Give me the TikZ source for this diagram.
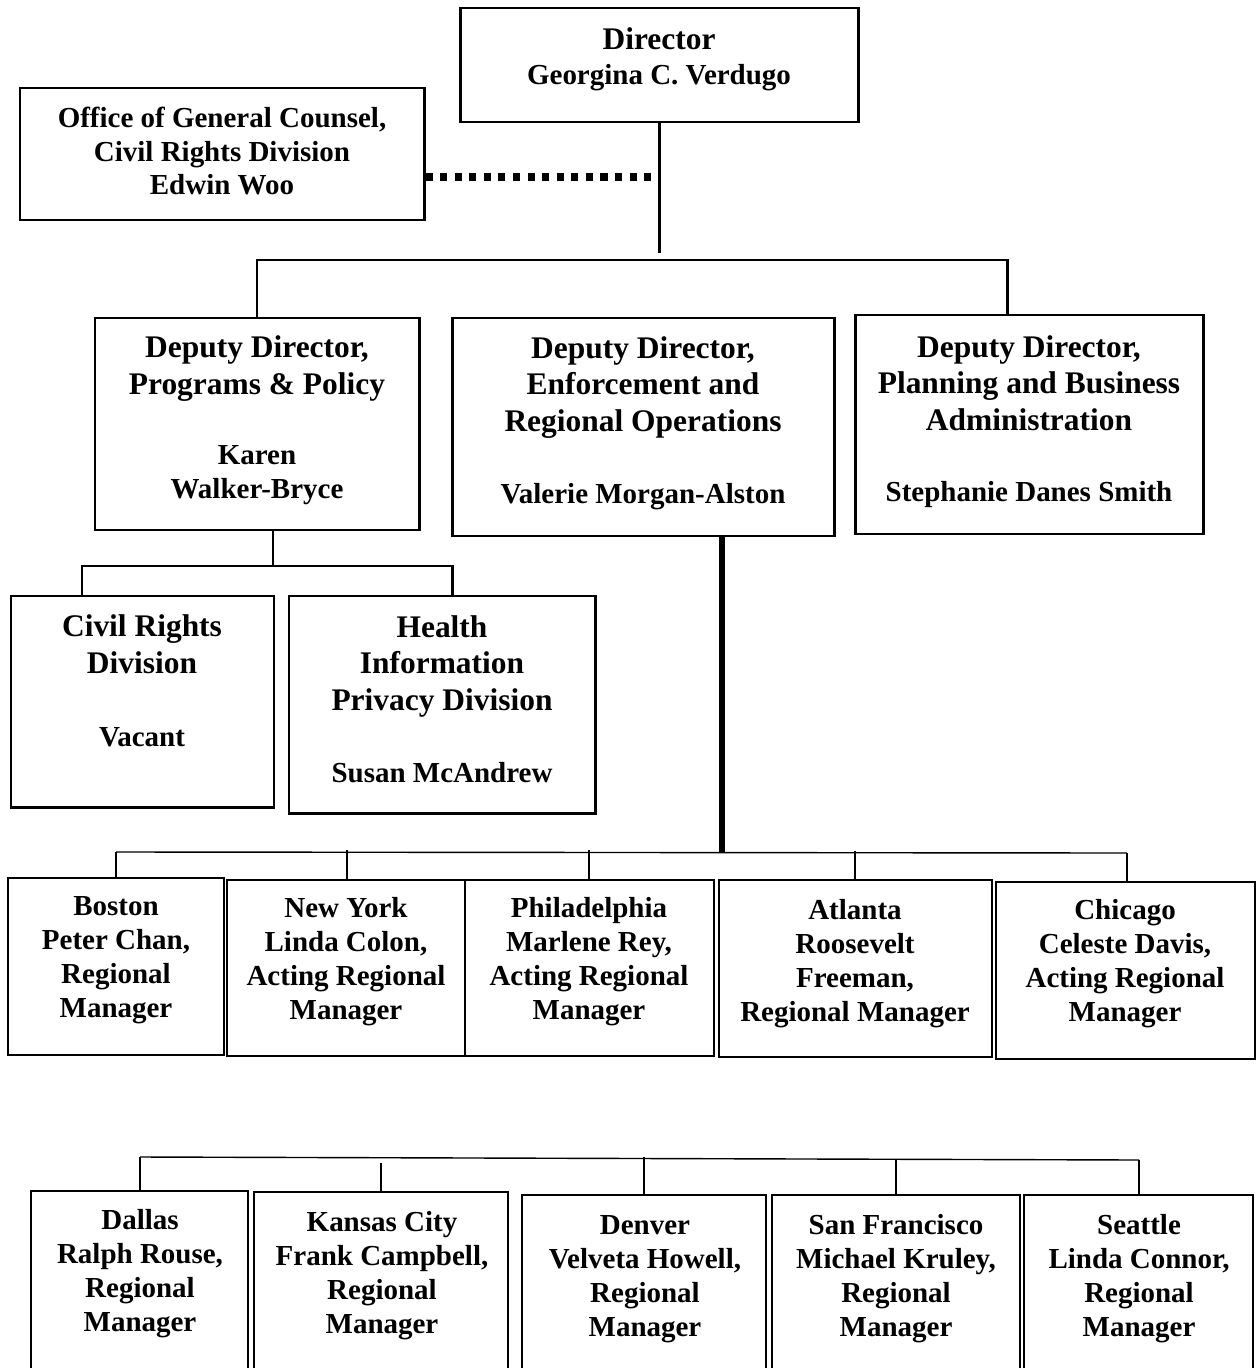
\documentclass[tikz,border=0pt]{standalone}
\usepackage{fontspec}
\setmainfont{Liberation Serif}
\usetikzlibrary{fit}
\begin{document}
\begin{tikzpicture}[
            x=0.02cm, y=-0.02cm,
            orgbox/.style={draw, line width=1.7pt, inner sep=0pt},
            rowbox/.style={draw, line width=1.5pt, inner sep=0pt},
            titletext/.style={font=\fontsize{17.9}{20.7}\selectfont\bfseries, align=center, anchor=base, inner sep=0pt},
            nametext/.style={font=\fontsize{16.5}{19.2}\selectfont\bfseries, align=center, anchor=base, inner sep=0pt},
            link/.style={draw, line width=1.7pt},
            bus/.style={draw, line width=0.8pt},
            tick/.style={draw, line width=0.6pt}
        ]
        \useasboundingbox (0,0) rectangle (1257,1368);
        % top level
        \node[orgbox, fit={(460,8) (858,122)}] (dir) {};
        \node[titletext] (dir-t) at (659,50) {Director};
        \node[nametext] (dir-n) at (659,85) {Georgina C. Verdugo};
        \node[orgbox, fit={(20,88) (424,220)}] (ogc) {};
        \node[nametext] (ogc-t) at (222,195) {Office of General Counsel,\\Civil Rights Division\\Edwin Woo};
        % deputies
        \node[orgbox, fit={(95,318) (419,530)}] (dpProg) {};
        \node[titletext] (dpProg-t) at (257,394) {Deputy Director,\\Programs \& Policy};
        \node[nametext] (dpProg-n) at (257,498) {Karen\\Walker-Bryce};
        \node[orgbox, fit={(452,318) (834,536)}] (dpEnf) {};
        \node[titletext] (dpEnf-t) at (643,431) {Deputy Director,\\Enforcement and\\Regional Operations};
        \node[nametext] (dpEnf-n) at (643,503) {Valerie Morgan-Alston};
        \node[orgbox, fit={(855,315) (1203,534)}] (dpPlan) {};
        \node[titletext] (dpPlan-t) at (1029,430) {Deputy Director,\\Planning and Business\\Administration};
        \node[nametext] (dpPlan-n) at (1029,501) {Stephanie Danes Smith};
        % divisions
        \node[orgbox, fit={(11,596) (274,807)}] (crd) {};
        \node[titletext] (crd-t) at (142,673) {Civil Rights\\Division};
        \node[nametext] (crd-n) at (142,746) {Vacant};
        \node[orgbox, fit={(289,596) (595,813)}] (hipd) {};
        \node[titletext] (hipd-t) at (442,710) {Health\\Information\\Privacy Division};
        \node[nametext] (hipd-n) at (442,782) {Susan McAndrew};
        % regions, first row
        \node[rowbox, fit={(8,878) (224,1055)}] (bos) {};
        \node[nametext] (bos-t) at (116,1017) {Boston\\Peter Chan,\\Regional\\Manager};
        \node[rowbox, fit={(227,880) (465,1056)}] (ny) {};
        \node[nametext] (ny-t) at (346,1019) {New York\\Linda Colon,\\Acting Regional\\Manager};
        \node[rowbox, fit={(465,880) (714,1056)}] (phl) {};
        \node[nametext] (phl-t) at (589,1019) {Philadelphia\\Marlene Rey,\\Acting Regional\\Manager};
        \node[rowbox, fit={(719,880) (992,1057)}] (atl) {};
        \node[nametext] (atl-t) at (855,1021) {Atlanta\\Roosevelt\\Freeman,\\Regional Manager};
        \node[rowbox, fit={(996,882) (1255,1059)}] (chi) {};
        \node[nametext] (chi-t) at (1125,1021) {Chicago\\Celeste Davis,\\Acting Regional\\Manager};
        % regions, second row
        \node[rowbox, fit={(31,1191) (248,1372)}] (dal) {};
        \node[nametext] (dal-t) at (140,1331) {Dallas\\Ralph Rouse,\\Regional\\Manager};
        \node[rowbox, fit={(254,1192) (508,1372)}] (kc) {};
        \node[nametext] (kc-t) at (382,1333) {Kansas City\\Frank Campbell,\\Regional\\Manager};
        \node[rowbox, fit={(522,1195) (766,1372)}] (den) {};
        \node[nametext] (den-t) at (645,1336) {Denver\\Velveta Howell,\\Regional\\Manager};
        \node[rowbox, fit={(772,1195) (1020,1372)}] (sf) {};
        \node[nametext] (sf-t) at (896,1336) {San Francisco\\Michael Kruley,\\Regional\\Manager};
        \node[rowbox, fit={(1024,1195) (1253,1372)}] (sea) {};
        \node[nametext] (sea-t) at (1139,1336) {Seattle\\Linda Connor,\\Regional\\Manager};
        % connectors
        \coordinate (dirEnd) at (659,253);
        \coordinate (dotEnd) at (652,177);
        \coordinate (topL) at (257,260);
        \coordinate (topR) at (1007,260);
        \coordinate (divTop) at (273,530);
        \coordinate (divL) at (82,566);
        \coordinate (divR) at (452,566);
        \coordinate (enfTop) at (722,536);
        \coordinate (enfEnd) at (722,852);
        \coordinate (busL) at (116,852);
        \coordinate (busR) at (1127,853);
        \coordinate (bus2L) at (140,1157);
        \coordinate (bus2R) at (1139,1160);
        \draw[link] (dir.south) -- (dirEnd);
        \draw[line width=4pt, dash pattern=on 4pt off 4.3pt] (ogc.east |- dotEnd) -- (dotEnd);
        \draw[link] (topL |- dpProg.north) -- (topL) -- (topR) -- (topR |- dpPlan.north);
        \draw[link] (divTop) -- (divTop |- divL);
        \draw[link] (divL |- crd.north) -- (divL) -- (divR) -- (divR |- hipd.north);
        \draw[line width=2.9pt] (enfTop) -- (enfEnd);
        \draw[bus] (busL) -- (busR);
        \draw[tick] (busL) -- (busL |- bos.north);
        \draw[tick] (347,850) -- (347,850 |- ny.north);
        \draw[tick] (589,850) -- (589,850 |- phl.north);
        \draw[tick] (855,851) -- (855,851 |- atl.north);
        \draw[tick] (busR) -- (busR |- chi.north);
        \draw[bus] (bus2L) -- (bus2R);
        \draw[tick] (bus2L) -- (bus2L |- dal.north);
        \draw[tick] (381,1163) -- (381,1163 |- kc.north);
        \draw[tick] (644,1157) -- (644,1157 |- den.north);
        \draw[tick] (896,1160) -- (896,1160 |- sf.north);
        \draw[tick] (bus2R) -- (bus2R |- sea.north);
    \end{tikzpicture}
\end{document}
